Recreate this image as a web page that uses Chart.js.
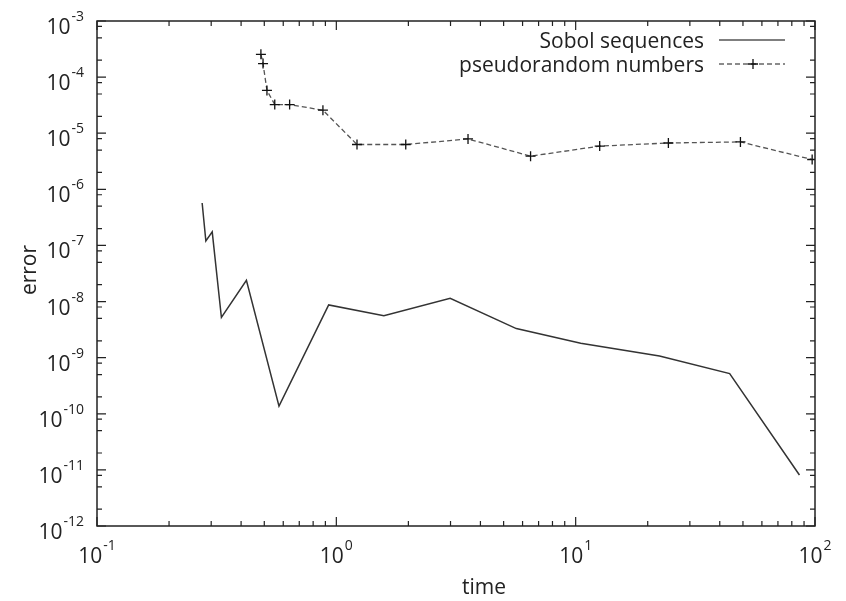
<!DOCTYPE html>
<html>
<head>
<meta charset="utf-8">
<script src="https://cdn.jsdelivr.net/npm/chart.js@4"></script>
<style>body{margin:0;background:#fff}</style>
</head>
<body>
<canvas id="errChart" width="846" height="601"></canvas>
<script>
const sobolTime = [0.275, 0.285, 0.303, 0.331, 0.421, 0.576, 0.929, 1.58, 2.99, 5.65, 10.5, 22.4, 44.0, 86.1];
const sobolError = [5.7e-7, 1.2e-7, 1.75e-7, 5.2e-9, 2.4e-8, 1.37e-10, 8.7e-9, 5.6e-9, 1.14e-8, 3.3e-9, 1.8e-9, 1.07e-9, 5.2e-10, 8.1e-12];
const prngTime = [0.484, 0.494, 0.513, 0.553, 0.638, 0.879, 1.22, 1.95, 3.55, 6.48, 12.6, 24.4, 48.8, 97.3];
const prngError = [2.55e-4, 1.74e-4, 5.8e-5, 3.24e-5, 3.24e-5, 2.57e-5, 6.3e-6, 6.3e-6, 7.9e-6, 3.9e-6, 5.9e-6, 6.7e-6, 7.0e-6, 3.4e-6];
const xExponents = [-1, 0, 1, 2];
const yExponents = [-12, -11, -10, -9, -8, -7, -6, -5, -4, -3];
const seriesNames = ['Sobol sequences', 'pseudorandom numbers'];

const FONT = '"Open Sans", sans-serif';
const TEXT = '#222';

// draws "10" with a raised exponent; anchor is left edge of "10", baseline y
function drawPow(ctx, exp, x, y) {
  ctx.font = '21px ' + FONT;
  ctx.fillText('10', x, y);
  const w = ctx.measureText('10').width;
  ctx.font = '14px ' + FONT;
  ctx.fillText(String(exp), x + w + 1, y - 13);
}
function powWidth(ctx, exp) {
  ctx.font = '21px ' + FONT;
  const w = ctx.measureText('10').width;
  ctx.font = '14px ' + FONT;
  return w + 1 + ctx.measureText(String(exp)).width;
}

const gnuFrame = {
  id: 'gnuFrame',
  afterDraw(chart) {
    const {ctx, chartArea: a, scales: {x, y}} = chart;
    ctx.save();
    ctx.strokeStyle = '#222';
    ctx.lineWidth = 1.5;
    ctx.strokeRect(a.left, a.top, a.width, a.height);

    // x ticks, inward on bottom and top
    ctx.lineWidth = 1.2;
    ctx.beginPath();
    xExponents.forEach(e => {
      const mults = e === xExponents[xExponents.length - 1] ? [1] : [1, 2, 3, 4, 5, 6, 7, 8, 9];
      mults.forEach(m => {
        const px = x.getPixelForValue(m * Math.pow(10, e));
        const len = m === 1 ? 9 : 5;
        ctx.moveTo(px, a.bottom); ctx.lineTo(px, a.bottom - len);
        ctx.moveTo(px, a.top); ctx.lineTo(px, a.top + len);
      });
    });
    // y ticks, inward on left and right
    yExponents.forEach(e => {
      const mults = e === yExponents[yExponents.length - 1] ? [1] : [1, 2, 5, 8];
      mults.forEach(m => {
        const py = y.getPixelForValue(m * Math.pow(10, e));
        const len = m === 1 ? 9 : 5;
        ctx.moveTo(a.left, py); ctx.lineTo(a.left + len, py);
        ctx.moveTo(a.right, py); ctx.lineTo(a.right - len, py);
      });
    });
    ctx.stroke();

    // tick labels
    ctx.fillStyle = TEXT;
    ctx.textBaseline = 'alphabetic';
    ctx.textAlign = 'left';
    xExponents.forEach(e => {
      const px = x.getPixelForValue(Math.pow(10, e));
      drawPow(ctx, e, px - powWidth(ctx, e) / 2, a.bottom + 37);
    });
    yExponents.forEach(e => {
      const py = y.getPixelForValue(Math.pow(10, e));
      drawPow(ctx, e, 84 - powWidth(ctx, e), py + 13);
    });

    // axis titles
    ctx.font = '21px ' + FONT;
    ctx.textAlign = 'center';
    ctx.fillText('time', 484, 594);
    ctx.save();
    ctx.translate(36, 270);
    ctx.rotate(-Math.PI / 2);
    ctx.fillText('error', 0, 0);
    ctx.restore();

    // key, gnuplot style: text right-aligned, sample to the right
    ctx.textAlign = 'right';
    ctx.fillText(seriesNames[0], 704, 48);
    ctx.fillText(seriesNames[1], 704, 72);
    ctx.lineWidth = 1.5;
    ctx.strokeStyle = '#555';
    ctx.beginPath(); ctx.moveTo(719, 40); ctx.lineTo(785, 40); ctx.stroke();
    ctx.setLineDash([5, 3]);
    ctx.strokeStyle = '#666';
    ctx.beginPath(); ctx.moveTo(719, 64); ctx.lineTo(785, 64); ctx.stroke();
    ctx.setLineDash([]);
    ctx.strokeStyle = '#111';
    ctx.lineWidth = 1.3;
    ctx.beginPath();
    ctx.moveTo(748, 64); ctx.lineTo(758, 64);
    ctx.moveTo(753, 59); ctx.lineTo(753, 69);
    ctx.stroke();
    ctx.restore();
  }
};

const toPoints = (xs, ys) => xs.map((t, i) => ({x: t, y: ys[i]}));

new Chart(document.getElementById('errChart'), {
  type: 'scatter',
  data: {
    datasets: [{
      label: seriesNames[0],
      data: toPoints(sobolTime, sobolError),
      showLine: true,
      borderColor: '#333',
      borderWidth: 1.5,
      pointRadius: 0
    }, {
      label: seriesNames[1],
      data: toPoints(prngTime, prngError),
      showLine: true,
      borderColor: '#555',
      borderWidth: 1.3,
      borderDash: [5, 3],
      pointStyle: 'cross',
      pointRadius: 5,
      pointBorderColor: '#111',
      pointBackgroundColor: '#111',
      pointBorderWidth: 1.3
    }]
  },
  options: {
    responsive: false,
    animation: false,
    layout: {padding: {left: 97, top: 21, right: 31, bottom: 75}},
    scales: {
      x: {type: 'logarithmic', min: 0.1, max: 100, display: false},
      y: {type: 'logarithmic', min: 1e-12, max: 1e-3, display: false}
    },
    plugins: {
      legend: {display: false},
      tooltip: {enabled: false}
    }
  },
  plugins: [gnuFrame]
});
</script>
</body>
</html>
